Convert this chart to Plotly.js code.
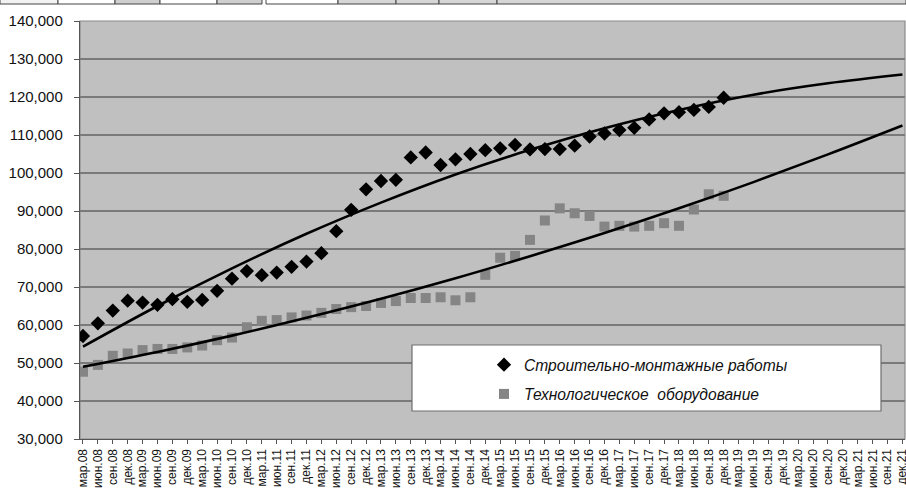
<!DOCTYPE html>
<html>
<head>
<meta charset="utf-8">
<script src="https://cdn.plot.ly/plotly-3.0.1.min.js"></script>
<style>
html,body{margin:0;padding:0;background:#fff;}
#chart{width:906px;height:490px;}
</style>
</head>
<body>
<div id="chart"></div>
<script>
// Quarter labels (categories)
var quarters = [
  "мар.08","июн.08","сен.08","дек.08","мар.09","июн.09","сен.09","дек.09",
  "мар.10","июн.10","сен.10","дек.10","мар.11","июн.11","сен.11","дек.11",
  "мар.12","июн.12","сен.12","дек.12","мар.13","июн.13","сен.13","дек.13",
  "мар.14","июн.14","сен.14","дек.14","мар.15","июн.15","сен.15","дек.15",
  "мар.16","июн.16","сен.16","дек.16","мар.17","июн.17","сен.17","дек.17",
  "мар.18","июн.18","сен.18","дек.18","мар.19","июн.19","сен.19","дек.19",
  "мар.20","июн.20","сен.20","дек.20","мар.21","июн.21","сен.21","дек.21"
];

// Series names
var name1 = "Строительно-монтажные работы";
var name2 = "Технологическое  оборудование";

// Observed values (мар.08 – дек.18)
var smr = [57100,60450,63800,66400,65900,65300,66800,66100,66600,69000,
           72200,74200,73100,73800,75300,76700,78900,84700,90300,95700,
           97900,98200,104100,105400,102100,103600,105000,106000,106500,107400,
           106200,106300,106300,107200,109600,110400,111300,111900,114100,115700,
           116000,116600,117400,119800];
var equip = [47700,49500,51900,52500,53400,53700,53700,54100,54600,56000,
             56700,59400,61100,61300,62000,62500,63200,64200,64700,65000,
             65800,66300,67100,67100,67300,66500,67300,73200,77700,78200,
             82400,87500,90700,89400,88700,85900,86100,85900,86100,86800,
             86100,90400,94400,94000];

// Trend lines, every 5 quarters
var trendQuarters = ["мар.08","июн.09","сен.10","дек.11","мар.13","июн.14",
                     "сен.15","дек.16","мар.18","июн.19","сен.20","дек.21"];
var trend1 = [54300,65000,74900,84000,92200,99600,106100,111800,116600,120600,123600,125900];
var trend2 = [49000,52900,57200,61900,66900,72300,78100,84200,90700,97600,104900,112500];

var W = 906, H = 490, ML = 80, MR = 1, MT = 21, MB = 51;
var PW = W - ML - MR, PH = H - MT - MB;
function px(x){ return (x - ML) / PW; }
function py(y){ return 1 - (y - MT) / PH; }

var traces = [
  {x: quarters, y: quarters.map(function(){return null;}), type:'scatter', mode:'markers',
   showlegend:false, hoverinfo:'skip', marker:{opacity:0}},
  {x: quarters.slice(0, smr.length), y: smr, type:'scatter', mode:'markers', name:name1,
   legendgroup:'a',
   marker:{symbol:'diamond', size:11, color:'#000000'}},
  {x: quarters.slice(0, equip.length), y: equip, type:'scatter', mode:'markers', name:name2,
   legendgroup:'b',
   marker:{symbol:'square', size:10, color:'#858585'}},
  {x: trendQuarters, y: trend1, type:'scatter', mode:'lines', showlegend:false,
   line:{color:'#000000', width:2.6, shape:'spline', smoothing:1}, hoverinfo:'skip'},
  {x: trendQuarters, y: trend2, type:'scatter', mode:'lines', showlegend:false,
   line:{color:'#000000', width:2.6, shape:'spline', smoothing:1}, hoverinfo:'skip'}
];

// top strip (remnant of a table above the chart)
var cells = [[0,58,'#f2f2f2'],[58,115,'#ffffff'],[115,160,'#cfcfcf'],[160,217,'#ffffff'],[217,262,'#cfcfcf'],
             [266,338,'#ffffff'],[338,396,'#d6d6d6'],[396,439,'#d6d6d6'],[439,497,'#d6d6d6'],[497,906,'#d6d6d6']];
var shapes = [];
cells.forEach(function(c){
  shapes.push({type:'rect', xref:'paper', yref:'paper', x0:px(c[0]), x1:px(c[1]), y0:py(4), y1:py(-2),
               fillcolor:c[2], line:{color:'#444', width:1}, layer:'above'});
});
// plot border
shapes.push({type:'rect', xref:'paper', yref:'paper', x0:0, x1:1, y0:0, y1:1,
             line:{color:'#8a8a8a', width:1.2}, layer:'below'});
// legend box
shapes.push({type:'rect', xref:'paper', yref:'paper', x0:px(412), x1:px(881), y0:py(411), y1:py(345),
             fillcolor:'#ffffff', line:{color:'#6e6e6e', width:1.2}, layer:'above'});

var layout = {
  width: W, height: H,
  margin: {l:ML, r:MR, t:MT, b:MB, pad:0},
  paper_bgcolor:'#ffffff',
  plot_bgcolor:'#c0c0c0',
  font:{family:'"Liberation Sans", Arial, sans-serif', color:'#111'},
  showlegend:true,
  legend:{x:px(484), y:py(348), xanchor:'left', yanchor:'top',
          bgcolor:'rgba(0,0,0,0)', borderwidth:0, tracegroupgap:6,
          font:{size:15.6, style:'italic', color:'#111'}},
  xaxis:{
    type:'category', categoryorder:'array', categoryarray:quarters,
    range:[-0.2, 55.17], showgrid:false, zeroline:false,
    showline:true, linecolor:'#555', linewidth:1.2,
    ticks:'outside', ticklen:4, tickcolor:'#555', tickwidth:1,
    tickangle:-90, tickfont:{size:12, color:'#111'}, automargin:false
  },
  yaxis:{
    range:[30000,140000], dtick:10000, tick0:30000, tickformat:',d',
    showgrid:true, gridcolor:'#7a7a7a', gridwidth:1.3, zeroline:false,
    showline:true, linecolor:'#555', linewidth:1.2,
    ticks:'outside', ticklen:5, tickcolor:'#555',
    tickfont:{size:15, color:'#111'}, ticklabelstandoff:8, automargin:false
  },
  shapes: shapes
};

Plotly.newPlot('chart', traces, layout, {displayModeBar:false, staticPlot:true});
</script>
</body>
</html>
